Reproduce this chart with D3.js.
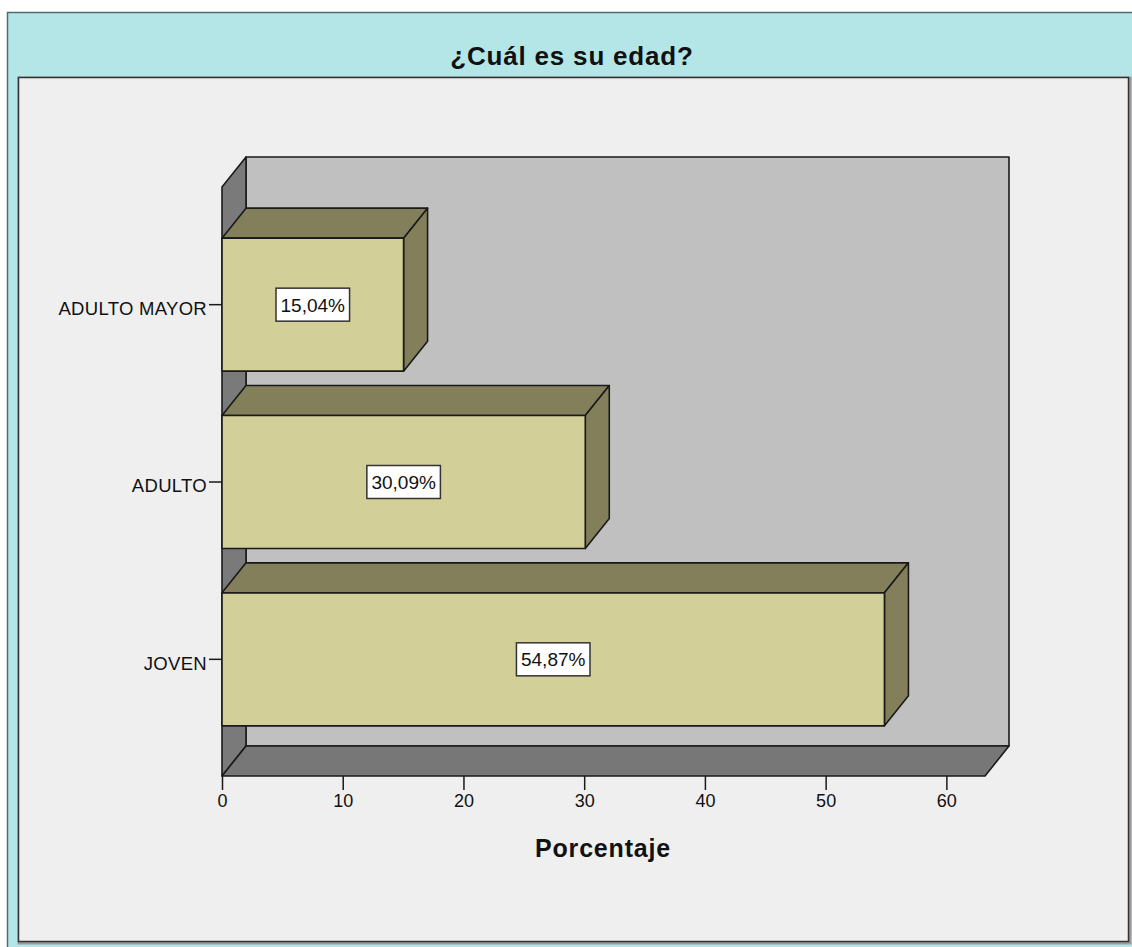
<!DOCTYPE html>
<html>
<head>
<meta charset="utf-8">
<script src="https://cdn.jsdelivr.net/npm/d3@7"></script>
<style>
  html, body { margin: 0; padding: 0; background: #ffffff; }
  svg { display: block; }
</style>
</head>
<body>
<script>
// Age-group distribution (percent of respondents)
const categories = ["ADULTO MAYOR", "ADULTO", "JOVEN"];
const percentages = [15.04, 30.09, 54.87];
const valueLabels = ["15,04%", "30,09%", "54,87%"];
const xTicks = [0, 10, 20, 30, 40, 50, 60];
const chartTitle = "¿Cuál es su edad?";
const axisTitle = "Porcentaje";

const W = 1132, H = 947;
const FONT = "Arial, 'Liberation Sans', sans-serif";
const svg = d3.select("body").append("svg").attr("width", W).attr("height", H);

// Outer frame with title strip
svg.append("rect").attr("x", 7.5).attr("y", 12.5).attr("width", 1130).attr("height", 940)
  .attr("fill", "#b4e6e8").attr("stroke", "#4f6d6d").attr("stroke-width", 1.5);

// Inner panel, with a soft edge shadow
svg.append("rect").attr("x", 19).attr("y", 78).attr("width", 1111).attr("height", 865)
  .attr("fill", "none").attr("stroke", "#9a9a9a").attr("stroke-width", 3);
svg.append("rect").attr("x", 18.5).attr("y", 77.5).attr("width", 1110).attr("height", 864)
  .attr("fill", "#efefef").attr("stroke", "#333").attr("stroke-width", 1.5);

svg.append("text").attr("x", 572).attr("y", 65).attr("text-anchor", "middle")
  .attr("font-family", FONT).attr("font-weight", "bold")
  .attr("font-size", 26).attr("letter-spacing", 0.8).attr("fill", "#111").text(chartTitle);

// Plot geometry and 3D depth offset
const plotLeft = 222, plotRight = 985, plotTop = 187, plotBottom = 776;
const dx = 24, dy = -30;

const x = d3.scaleLinear().domain([0, 63.2]).range([plotLeft, plotRight]);
const y = d3.scaleBand().domain(categories).range([216, 748]).paddingInner(0.25).paddingOuter(0.125);

const stroke = "#1a1a1a";
const poly = (pts, fill) => svg.append("polygon")
  .attr("points", pts.map(p => p.join(",")).join(" "))
  .attr("fill", fill).attr("stroke", stroke).attr("stroke-width", 1.6).attr("stroke-linejoin", "round");

// Back wall
poly([[plotLeft + dx, plotTop + dy], [plotRight + dx, plotTop + dy], [plotRight + dx, plotBottom + dy], [plotLeft + dx, plotBottom + dy]], "#c0c0c0");
// Left wall
poly([[plotLeft, plotTop], [plotLeft + dx, plotTop + dy], [plotLeft + dx, plotBottom + dy], [plotLeft, plotBottom]], "#7a7a7a");
// Floor
poly([[plotLeft, plotBottom], [plotLeft + dx, plotBottom + dy], [plotRight + dx, plotBottom + dy], [plotRight, plotBottom]], "#777777");

// Bars: top face, side face, front face
categories.forEach((c, i) => {
  const x0 = x(0), x1 = x(percentages[i]);
  const y0 = y(c), y1 = y(c) + y.bandwidth();
  poly([[x0, y0], [x0 + dx, y0 + dy], [x1 + dx, y0 + dy], [x1, y0]], "#827f5a");
  poly([[x1, y0], [x1 + dx, y0 + dy], [x1 + dx, y1 + dy], [x1, y1]], "#827f5a");
  poly([[x0, y0], [x1, y0], [x1, y1], [x0, y1]], "#d3cf98");

  // Value label box
  const cx = (x0 + x1) / 2, cy = (y0 + y1) / 2;
  const t = svg.append("text").attr("x", cx).attr("y", cy + 7).attr("text-anchor", "middle")
    .attr("font-family", FONT).attr("font-size", 19)
    .attr("fill", "#111").text(valueLabels[i]);
  const bb = t.node().getBBox();
  svg.insert("rect", () => t.node())
    .attr("x", cx - (bb.width + 9) / 2).attr("y", cy - 16.5)
    .attr("width", bb.width + 9).attr("height", 33)
    .attr("fill", "#ffffff").attr("stroke", "#333").attr("stroke-width", 1.5);
});

// Category axis
const yAxis = svg.append("g").attr("transform", `translate(${plotLeft},0)`)
  .call(d3.axisLeft(y).tickSize(13).tickPadding(2));
yAxis.select(".domain").remove();
yAxis.selectAll(".tick line").attr("stroke", stroke).attr("stroke-width", 1.5);
yAxis.selectAll(".tick text").attr("font-family", FONT).attr("dy", "0.55em")
  .attr("font-size", 18.5).attr("letter-spacing", 0.3).attr("fill", "#111");

// Value axis
const xAxis = svg.append("g").attr("transform", `translate(0,${plotBottom})`)
  .call(d3.axisBottom(x).tickValues(xTicks).tickSize(14).tickPadding(4));
xAxis.select(".domain").remove();
xAxis.selectAll(".tick line").attr("stroke", stroke).attr("stroke-width", 1.5);
xAxis.selectAll(".tick text").attr("font-family", FONT)
  .attr("font-size", 18).attr("fill", "#111");

svg.append("text").attr("x", 603).attr("y", 857).attr("text-anchor", "middle")
  .attr("font-family", FONT).attr("font-weight", "bold")
  .attr("font-size", 25).attr("letter-spacing", 0.8).attr("fill", "#111").text(axisTitle);
</script>
</body>
</html>
